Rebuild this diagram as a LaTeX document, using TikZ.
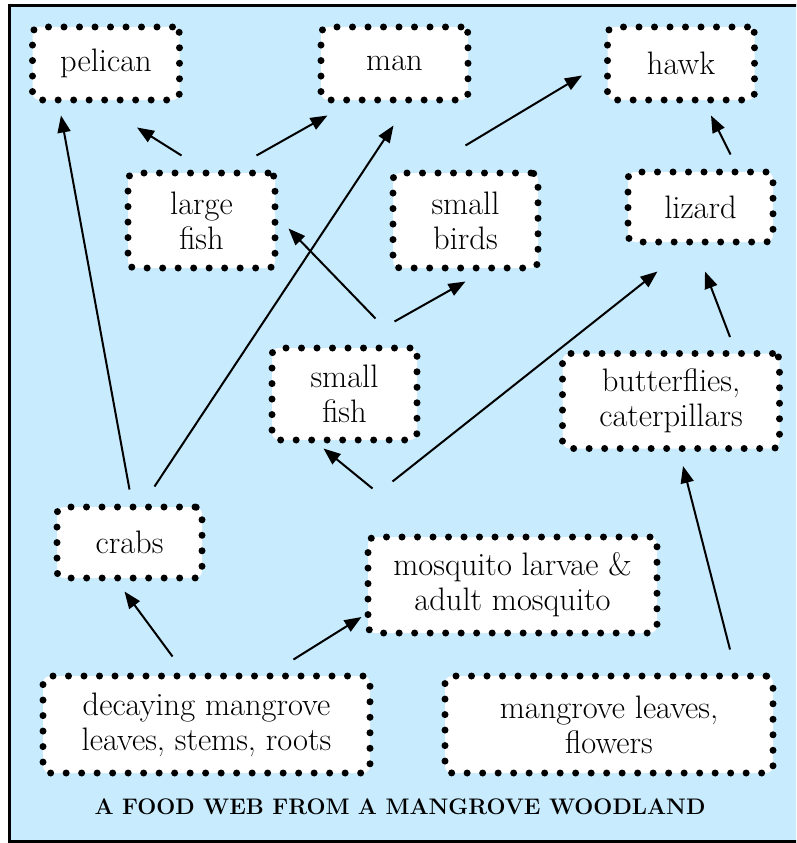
\documentclass[tikz,border=0pt]{standalone}
\usepackage{fontspec}
\usetikzlibrary{arrows.meta}
\definecolor{mangrovesky}{RGB}{200,235,253}

\begin{document}
\begin{tikzpicture}[x=1pt,y=-1pt,thick]
\tikzset{organism/.style={draw,fill=white,line width=7pt,line cap=round,
dash pattern=on 0pt off 15.5pt,rounded corners=7pt,align=center,
font=\fontsize{32.5}{35}\selectfont,inner sep=0pt},
eats/.style={line width=2pt,-{Triangle[length=17pt,width=13pt]}},
}
\useasboundingbox (0,0) rectangle (796,843);
\begin{scope}
\clip (0,0) rectangle (796,843);
\draw[line width=3.5pt,fill=mangrovesky] (9.5,5.5) rectangle (810,841.5);
\end{scope}

\node[organism,minimum width=147pt,minimum height=73pt] (pelican) at (106,63.5) {pelican};
\node[organism,minimum width=147pt,minimum height=73pt] (man) at (394.5,63.5) {man};
\node[organism,minimum width=147pt,minimum height=73pt] (hawk) at (681,63.5) {hawk};
\node[organism,minimum width=147pt,minimum height=95pt] (largefish) at (201.5,220.5) {large\\fish};
\node[organism,minimum width=145pt,minimum height=95pt] (smallbirds) at (465.5,220.5) {small\\birds};
\node[organism,minimum width=145pt,minimum height=70pt] (lizard) at (700.5,207) {lizard};
\node[organism,minimum width=145pt,minimum height=92pt] (smallfish) at (344.5,394) {small\\fish};
\node[organism,minimum width=217pt,minimum height=95pt] (butterflies) at (671,401) {butterflies,\\caterpillars};
\node[organism,minimum width=145pt,minimum height=71pt] (crabs) at (129.5,542.5) {crabs};
\node[organism,minimum width=289pt,minimum height=96pt] (mosquito) at (512.5,585) {mosquito larvae \&\\adult mosquito};
\node[organism,minimum width=327pt,minimum height=97pt] (decaying) at (206.5,724.5) {decaying mangrove\\leaves, stems, roots};
\node[organism,minimum width=328pt,minimum height=97pt] (leaves) at (609,724.5) {mangrove leaves,\\flowers};
\node[font=\fontsize{22.5}{26}\selectfont\bfseries] (title) at (400,807) {A FOOD WEB FROM A MANGROVE WOODLAND};

\draw[eats] ([shift={(0,-14)}]crabs.north) -- ([shift={(-45,12)}]pelican.south);
\draw[eats] ([shift={(25,-17)}]crabs.north) -- ([shift={(-1,22)}]man.south);
\draw[eats] ([shift={(-20,-14)}]largefish.north) -- ([shift={(31,24)}]pelican.south);
\draw[eats] ([shift={(55,-14)}]largefish.north) -- ([shift={(-67,12)}]man.south);
\draw[eats] ([shift={(0,-24)}]smallbirds.north) -- ([shift={(-22,12)}]hawk.west);
\draw[eats] ([shift={(30,-14)}]lizard.north) -- ([shift={(30,12)}]hawk.south);
\draw[eats] ([shift={(31,-26)}]smallfish.north) -- ([shift={(10,8)}]largefish.east);
\draw[eats] ([shift={(50,-23)}]smallfish.north) -- ([shift={(0,10)}]smallbirds.south);
\draw[eats] ([shift={(-140,-45)}]mosquito.north) -- ([shift={(-21,5)}]smallfish.south);
\draw[eats] ([shift={(-120,-52)}]mosquito.north) -- ([shift={(-43,26)}]lizard.south);
\draw[eats] ([shift={(59,-13)}]butterflies.north) -- ([shift={(4.5,26)}]lizard.south);
\draw[eats] ([shift={(121,-23)}]leaves.north) -- ([shift={(12,14)}]butterflies.south);
\draw[eats] ([shift={(-34,-16)}]decaying.north) -- ([shift={(-5,10)}]crabs.south);
\draw[eats] ([shift={(87,-13)}]decaying.north) -- ([shift={(-3,32)}]mosquito.west);
\end{tikzpicture}
\end{document}
